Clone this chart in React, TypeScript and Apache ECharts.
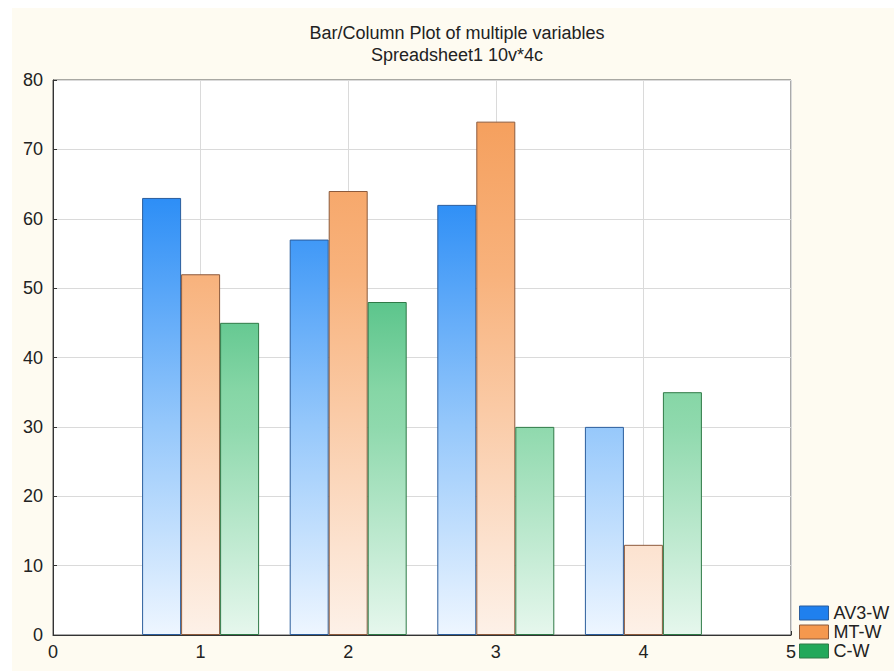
import React, { useEffect, useRef } from "react";
import * as echarts from "echarts";

const titleLines = ["Bar/Column Plot of multiple variables", "Spreadsheet1 10v*4c"];
const positions = [1, 2, 3, 4];
const seriesNames = ["AV3-W", "MT-W", "C-W"];
const av3W = [63, 57, 62, 30];
const mtW = [52, 64, 74, 13];
const cW = [45, 48, 30, 35];

const FONT = "'Liberation Sans', Arial, sans-serif";
const GRID = { left: 53, right: 103, top: 80, bottom: 36 };
const W = 894;
const H = 671;

function shade(stops: [number, string][]) {
  // vertical gradient spanning the whole plot height, shared by every bar
  return new echarts.graphic.LinearGradient(
    0,
    GRID.top,
    0,
    H - GRID.bottom,
    stops.map(([offset, color]) => ({ offset, color })),
    true
  );
}

const palette = [
  {
    solid: "#1f80ee",
    border: "#2b5d9c",
    fill: shade([
      [0, "#1a7cf4"],
      [0.2125, "#2d8ef6"],
      [0.625, "#96c8fb"],
      [1, "#eef6ff"],
    ]),
  },
  {
    solid: "#f5984e",
    border: "#8c5a3c",
    fill: shade([
      [0, "#f49a55"],
      [0.075, "#f5a05e"],
      [0.35, "#f8b27c"],
      [0.8375, "#fce2cf"],
      [1, "#fdf1e8"],
    ]),
  },
  {
    solid: "#22a85a",
    border: "#2f7a47",
    fill: shade([
      [0, "#3cb673"],
      [0.4, "#5cc58c"],
      [0.5625, "#86d6a6"],
      [0.625, "#8fd9ad"],
      [1, "#e6f7ed"],
    ]),
  },
];

const values = [av3W, mtW, cW];

export default function App() {
  const ref = useRef<HTMLDivElement>(null);

  useEffect(() => {
    if (!ref.current) return;
    const chart = echarts.init(ref.current, null, { renderer: "svg" });
    chart.setOption({
      animation: false,
      backgroundColor: "#ffffff",
      textStyle: { fontFamily: FONT },
      graphic: [
        {
          type: "rect",
          z: -10,
          silent: true,
          shape: { x: 12, y: 8, width: W - 12, height: H - 8 },
          style: { fill: "#fefbf1" },
        },
        ...titleLines.map((t, i) => ({
          type: "text",
          x: 457,
          y: 33 + i * 22,
          style: {
            text: t,
            fill: "#222",
            font: `18px ${FONT}`,
            textAlign: "center",
            textVerticalAlign: "middle",
          },
        })),
      ],
      grid: {
        ...GRID,
        show: true,
        backgroundColor: "#ffffff",
        borderColor: "#555",
        borderWidth: 1,
      },
      legend: {
        orient: "vertical",
        left: 799,
        top: 604,
        padding: 0,
        itemWidth: 29,
        itemHeight: 14,
        itemGap: 1,
        icon: "rect",
        textStyle: { fontSize: 18, color: "#222", fontFamily: FONT, lineHeight: 17 },
        data: seriesNames.map((name, i) => ({
          name,
          itemStyle: { color: palette[i].solid, borderColor: palette[i].border, borderWidth: 1 },
        })),
      },
      xAxis: {
        type: "value",
        min: 0,
        max: 5,
        interval: 1,
        axisLine: { show: true, lineStyle: { color: "#333", width: 1 } },
        axisTick: { show: true, inside: true, length: 4, lineStyle: { color: "#333" } },
        axisLabel: { fontSize: 18, color: "#222", margin: 8, fontFamily: FONT },
        splitLine: { show: true, lineStyle: { color: "#dadada", width: 1 } },
      },
      yAxis: {
        type: "value",
        min: 0,
        max: 80,
        interval: 10,
        axisLine: { show: true, lineStyle: { color: "#333", width: 1 } },
        axisTick: { show: true, inside: true, length: 4, lineStyle: { color: "#333" } },
        axisLabel: { fontSize: 18, color: "#222", margin: 10, fontFamily: FONT },
        splitLine: { show: true, lineStyle: { color: "#dadada", width: 1 } },
      },
      series: seriesNames.map((name, i) => ({
        name,
        type: "bar",
        barWidth: 39,
        barGap: "0%",
        data: positions.map((p, j) => [p, values[i][j]]),
        itemStyle: {
          color: palette[i].fill,
          borderColor: palette[i].border,
          borderWidth: 1,
        },
      })),
    });
    return () => chart.dispose();
  }, []);

  return (
    <div
      ref={ref}
      style={{ position: "fixed", left: 0, top: 0, width: W, height: H }}
    />
  );
}
